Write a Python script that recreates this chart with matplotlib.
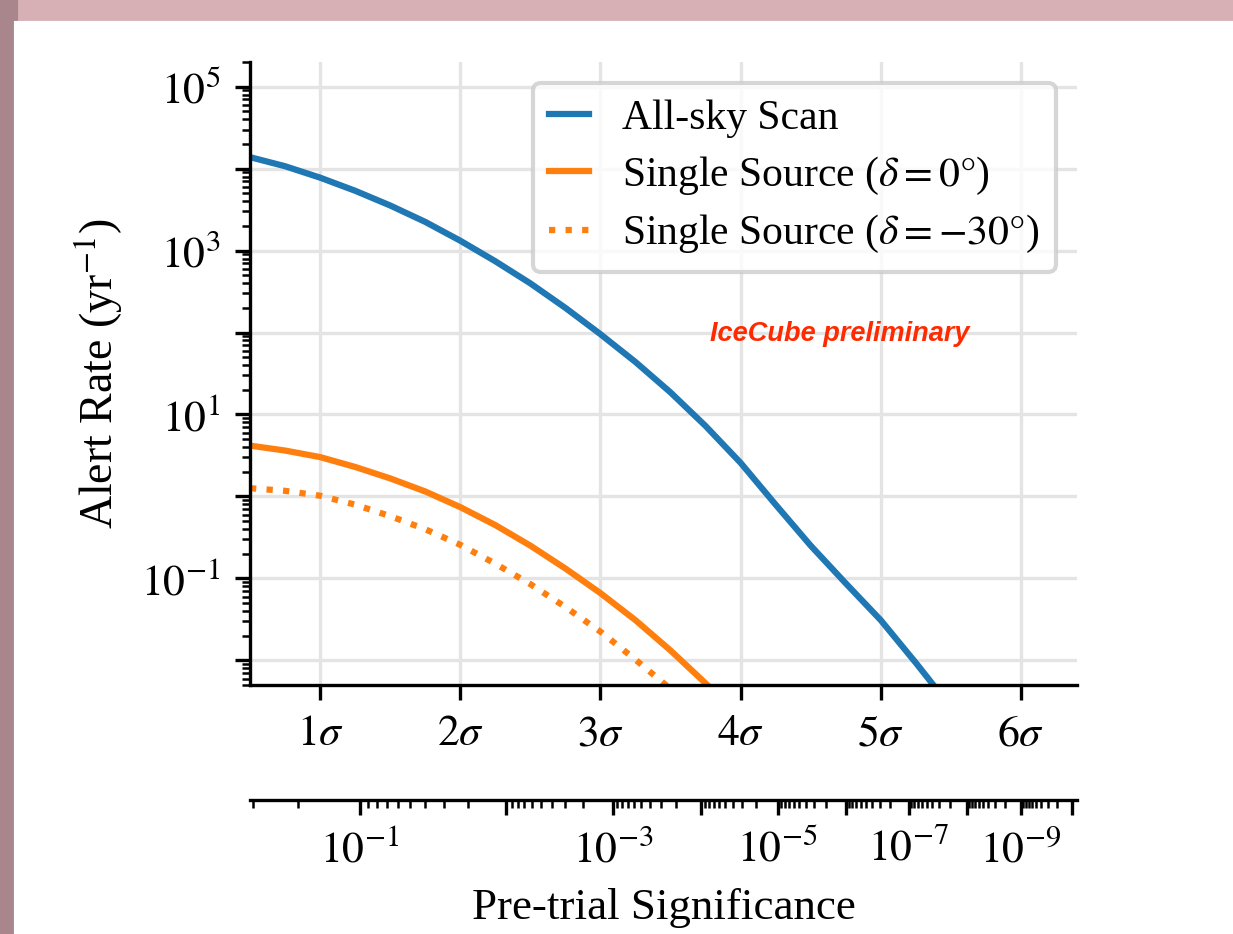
import math
import numpy as np
import matplotlib
matplotlib.use('Agg')
import matplotlib.pyplot as plt
import matplotlib.ticker as mticker
from matplotlib.patches import Rectangle

plt.rcParams['font.family'] = ['Liberation Serif', 'DejaVu Serif']
plt.rcParams['mathtext.fontset'] = 'stix'
plt.rcParams['font.size'] = 10.5

# data
sigma_allsky = [0.5, 0.75, 1.0, 1.25, 1.5, 1.75, 2.0, 2.25, 2.5, 2.75, 3.0,
                3.25, 3.5, 3.75, 4.0, 4.25, 4.5, 4.75, 5.0, 5.25, 5.5]
rate_allsky = [13800, 10700, 7760, 5370, 3550, 2240, 1320, 741, 398, 200, 95.5,
               43.7, 18.6, 7.24, 2.57, 0.794, 0.251, 0.0871, 0.0309, 0.00933, 0.00269]

sigma_src0 = [0.5, 0.75, 1.0, 1.25, 1.5, 1.75, 2.0, 2.25, 2.5, 2.75, 3.0,
              3.25, 3.5, 3.75, 4.0]
rate_src0 = [4.17, 3.63, 3.02, 2.29, 1.66, 1.15, 0.741, 0.447, 0.251, 0.132, 0.0661,
             0.0309, 0.0132, 0.00525, 0.00195]

sigma_src30 = [0.5, 0.75, 1.0, 1.25, 1.5, 1.75, 2.0, 2.25, 2.5, 2.75, 3.0,
               3.25, 3.5, 3.75]
rate_src30 = [1.26, 1.17, 1.02, 0.794, 0.575, 0.398, 0.257, 0.151, 0.0851, 0.0447, 0.0224,
              0.0102, 0.00447, 0.00186]

sigma_ticks = [1, 2, 3, 4, 5, 6]
pval_decades = list(range(0, -11, -1))

# sigma <-> one-sided p-value
_erfc = np.vectorize(math.erfc)
_grid = np.linspace(-2, 12, 3000)
_neglogp = -np.log10(0.5 * _erfc(_grid / np.sqrt(2)))


def sig2p(s):
    return 0.5 * _erfc(np.asarray(s, dtype=float) / np.sqrt(2))


def p2sig(p):
    p = np.clip(np.asarray(p, dtype=float), 1e-300, None)
    return np.interp(-np.log10(p), _neglogp, _grid)


fig = plt.figure(figsize=(1233 / 300, 934 / 300), dpi=300, facecolor='#d6b0b5')
fig.patches.append(Rectangle((0, 0), 16 / 1233, 1, transform=fig.transFigure,
                             color='#a9868b', zorder=-2))
fig.patches.append(Rectangle((16 / 1233, 0), 1, 1 - 23 / 934, transform=fig.transFigure,
                             color='white', zorder=-1))

ax = fig.add_axes([250 / 1233, 1 - 685 / 934, (1077 - 250) / 1233, (685 - 62) / 934])
ax.plot(sigma_allsky, rate_allsky, color='#1f77b4', lw=1.5, label='All-sky Scan')
ax.plot(sigma_src0, rate_src0, color='#ff7f0e', lw=1.5,
        label=r'Single Source ($\delta = 0°$)')
ax.plot(sigma_src30, rate_src30, color='#ff7f0e', lw=1.5, ls=':',
        label=r'Single Source ($\delta = -30°$)')

ax.set_yscale('log')
ax.set_xlim(0.5, 6.4)
ax.set_ylim(5e-3, 2e5)
ax.set_xticks(sigma_ticks)
ax.set_xticklabels([r'$%d\sigma$' % s for s in sigma_ticks])
ax.yaxis.set_major_locator(mticker.LogLocator(base=10, numticks=30))
ax.yaxis.set_minor_locator(mticker.LogLocator(base=10, subs=np.arange(2, 10), numticks=30))


def odd_exp(v, pos):
    e = int(round(np.log10(v)))
    return r'$10^{%d}$' % e if e % 2 else ''


ax.yaxis.set_major_formatter(mticker.FuncFormatter(odd_exp))
ax.yaxis.set_minor_formatter(mticker.NullFormatter())
ax.set_ylabel(r'Alert Rate (yr$^{-1}$)', fontsize=11, labelpad=4)
ax.grid(True, which='major', color='#e4e4e4', lw=0.8)
ax.set_axisbelow(True)
for side in ['top', 'right']:
    ax.spines[side].set_visible(False)

ax.legend(loc='upper right', fontsize=10, handlelength=0.95, labelspacing=0.4)
ax.text(4.71, 95, 'IceCube preliminary', color='#ff2a00', fontsize=6.5,
        fontweight='bold', fontstyle='italic', family=['Liberation Sans'],
        ha='center', va='center')

# p-value axis below
sec = ax.secondary_xaxis(-0.1846, functions=(sig2p, p2sig))
sec.xaxis.set_major_locator(mticker.FixedLocator([10.0 ** e for e in pval_decades]))
minor = [m * 10.0 ** e for e in pval_decades for m in range(2, 10)]
sec.xaxis.set_minor_locator(mticker.FixedLocator(minor))
sec.xaxis.set_major_formatter(mticker.FuncFormatter(odd_exp))
sec.xaxis.set_minor_formatter(mticker.NullFormatter())
sec.set_xlabel('Pre-trial Significance', fontsize=10.8)

fig.savefig('out.png', dpi=300, facecolor=fig.get_facecolor())
